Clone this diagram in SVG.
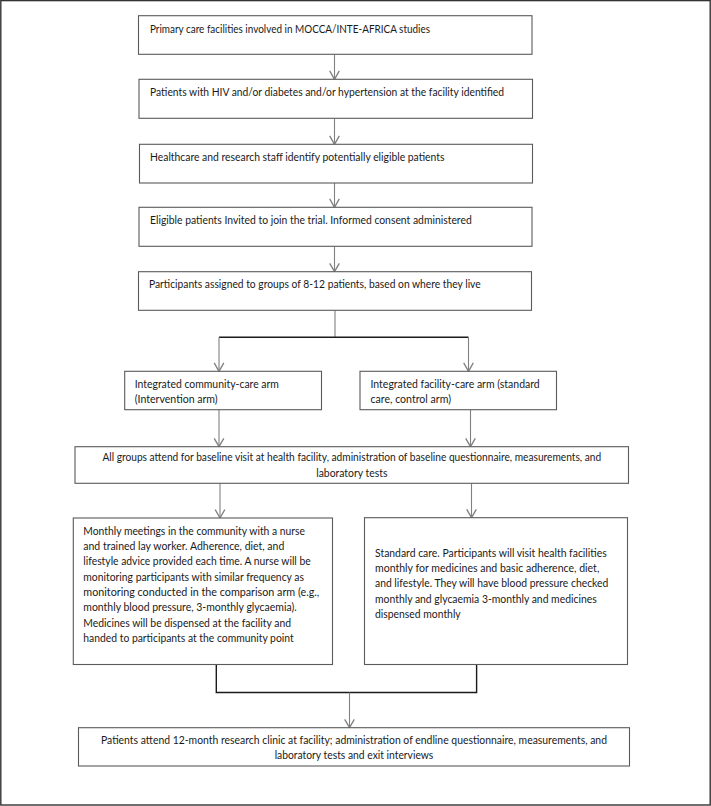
<svg xmlns="http://www.w3.org/2000/svg" width="711" height="806" viewBox="0 0 711 806">
<defs>
<style>
.box{fill:#fff;stroke:#5a5a5a;stroke-width:1.1}
.t{font-family:Lato,"Liberation Sans",sans-serif;font-size:10.5px;fill:#1a1a1a}
.c{text-anchor:middle}
.arr{stroke:#808080;stroke-width:1.1;fill:none}
.blk{stroke:#1a1a1a;stroke-width:1.4;fill:none}
</style>
<marker id="ah" markerUnits="userSpaceOnUse" markerWidth="12" markerHeight="12" viewBox="-8 -5 10 10" refX="0" refY="0" orient="auto">
<path d="M-7,-4 L0,0 L-7,4" fill="none" stroke="#808080" stroke-width="1.1"/>
</marker>
</defs>
<rect x="0" y="0" width="711" height="806" fill="#fff"/>
<rect x="0.8" y="0.6" width="709.4" height="804.4" fill="none" stroke="#333" stroke-width="1.4"/>

<g id="connectors">
<line class="arr" x1="334.5" y1="54.3" x2="334.5" y2="79.3" marker-end="url(#ah)"/>
<line class="arr" x1="334.5" y1="118.3" x2="334.5" y2="144.3" marker-end="url(#ah)"/>
<line class="arr" x1="334.5" y1="183" x2="334.5" y2="207.3" marker-end="url(#ah)"/>
<line class="arr" x1="334.5" y1="246.3" x2="334.5" y2="271.7" marker-end="url(#ah)"/>
<line class="arr" x1="335" y1="310.3" x2="335" y2="337.3"/>
<line class="blk" x1="219" y1="337.3" x2="468.5" y2="337.3"/>
<line class="arr" x1="219" y1="337.3" x2="219" y2="371.3" marker-end="url(#ah)"/>
<line class="arr" x1="468.5" y1="337.3" x2="468.5" y2="371.3" marker-end="url(#ah)"/>
<line class="arr" x1="219" y1="409.7" x2="219" y2="446.7" marker-end="url(#ah)"/>
<line class="arr" x1="470.5" y1="409.7" x2="470.5" y2="446.7" marker-end="url(#ah)"/>
<line class="arr" x1="220" y1="483.3" x2="220" y2="518" marker-end="url(#ah)"/>
<line class="arr" x1="471.5" y1="483.3" x2="471.5" y2="517.7" marker-end="url(#ah)"/>
<path class="blk" d="M216.3,664.5 V692.5 H476.6 V664.5"/>
<line class="arr" x1="349.5" y1="692.5" x2="349.5" y2="727.7" marker-end="url(#ah)"/>
</g>

<g id="n1">
<rect class="box" x="138.5" y="15.7" width="393.5" height="38.6"/>
<text class="t" x="150" y="32.5" textLength="280" lengthAdjust="spacingAndGlyphs">Primary care facilities involved in MOCCA/INTE-AFRICA studies</text>
</g>
<g id="n2">
<rect class="box" x="139" y="79.3" width="393.5" height="39"/>
<text class="t" x="150" y="96" textLength="354" lengthAdjust="spacingAndGlyphs">Patients with HIV and/or diabetes and/or hypertension at the facility identified</text>
</g>
<g id="n3">
<rect class="box" x="139.5" y="144.3" width="393" height="38.7"/>
<text class="t" x="150" y="160.8" textLength="294.5" lengthAdjust="spacingAndGlyphs">Healthcare and research staff identify potentially eligible patients</text>
</g>
<g id="n4">
<rect class="box" x="139" y="207.3" width="393" height="39"/>
<text class="t" x="150" y="224" textLength="321.7" lengthAdjust="spacingAndGlyphs">Eligible patients Invited to join the trial. Informed consent administered</text>
</g>
<g id="n5">
<rect class="box" x="138.5" y="271.7" width="393" height="38.6"/>
<text class="t" x="149" y="288.3" textLength="331.7" lengthAdjust="spacingAndGlyphs">Participants assigned to groups of 8-12 patients, based on where they live</text>
</g>
<g id="n6">
<rect class="box" x="124.7" y="371.3" width="196.8" height="38.4"/>
<text class="t" x="134.7" y="387.5" textLength="144.2" lengthAdjust="spacingAndGlyphs">Integrated community-care arm</text>
<text class="t" x="134.7" y="402.8" textLength="83" lengthAdjust="spacingAndGlyphs">(Intervention arm)</text>
</g>
<g id="n7">
<rect class="box" x="360" y="371.3" width="196.5" height="38.4"/>
<text class="t" x="370.5" y="387.5" textLength="169.2" lengthAdjust="spacingAndGlyphs">Integrated facility-care arm (standard</text>
<text class="t" x="370.5" y="402.8" textLength="80.5" lengthAdjust="spacingAndGlyphs">care, control arm)</text>
</g>
<g id="n8">
<rect class="box" x="75" y="446.7" width="553.5" height="36.6"/>
<text class="t c" x="351.8" y="460.5" textLength="498.8" lengthAdjust="spacingAndGlyphs">All groups attend for baseline visit at health facility, administration of baseline questionnaire, measurements, and</text>
<text class="t c" x="351.8" y="476.5" textLength="71.2" lengthAdjust="spacingAndGlyphs">laboratory tests</text>
</g>
<g id="n9">
<rect class="box" x="73.3" y="518" width="259.2" height="146.5"/>
<text class="t" x="83.3" y="534.5" textLength="221.7" lengthAdjust="spacingAndGlyphs">Monthly meetings in the community with a nurse</text>
<text class="t" x="83.3" y="549.8" textLength="201" lengthAdjust="spacingAndGlyphs">and trained lay worker. Adherence, diet, and</text>
<text class="t" x="83.3" y="565.2" textLength="227.4" lengthAdjust="spacingAndGlyphs">lifestyle advice provided each time. A nurse will be</text>
<text class="t" x="83.3" y="580.5" textLength="220.7" lengthAdjust="spacingAndGlyphs">monitoring participants with similar frequency as</text>
<text class="t" x="83.3" y="595.8" textLength="236" lengthAdjust="spacingAndGlyphs">monitoring conducted in the comparison arm (e.g.,</text>
<text class="t" x="83.3" y="611.2" textLength="213.4" lengthAdjust="spacingAndGlyphs">monthly blood pressure, 3-monthly glycaemia).</text>
<text class="t" x="83.3" y="626.5" textLength="207.7" lengthAdjust="spacingAndGlyphs">Medicines will be dispensed at the facility and</text>
<text class="t" x="83.3" y="641.8" textLength="210.4" lengthAdjust="spacingAndGlyphs">handed to participants at the community point</text>
</g>
<g id="n10">
<rect class="box" x="364.5" y="517.7" width="263" height="146.8"/>
<text class="t" x="375" y="556.8" textLength="231.7" lengthAdjust="spacingAndGlyphs">Standard care. Participants will visit health facilities</text>
<text class="t" x="375" y="572.1" textLength="224.3" lengthAdjust="spacingAndGlyphs">monthly for medicines and basic adherence, diet,</text>
<text class="t" x="375" y="587.4" textLength="233.3" lengthAdjust="spacingAndGlyphs">and lifestyle. They will have blood pressure checked</text>
<text class="t" x="375" y="602.7" textLength="221.7" lengthAdjust="spacingAndGlyphs">monthly and glycaemia 3-monthly and medicines</text>
<text class="t" x="375" y="618" textLength="85.7" lengthAdjust="spacingAndGlyphs">dispensed monthly</text>
</g>
<g id="n11">
<rect class="box" x="78.5" y="727.7" width="551" height="38.3"/>
<text class="t c" x="354" y="743.7" textLength="506" lengthAdjust="spacingAndGlyphs">Patients attend 12-month research clinic at facility; administration of endline questionnaire, measurements, and</text>
<text class="t c" x="354" y="759.4" textLength="158.7" lengthAdjust="spacingAndGlyphs">laboratory tests and exit interviews</text>
</g>
</svg>
